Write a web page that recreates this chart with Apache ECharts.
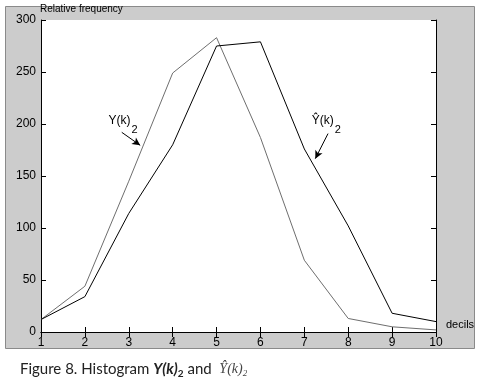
<!DOCTYPE html>
<html>
<head>
<meta charset="utf-8">
<script src="https://cdn.jsdelivr.net/npm/echarts@6/dist/echarts.min.js"></script>
<style>
  html, body { margin: 0; padding: 0; background: #fff; }
  #main { width: 484px; height: 392px; }
</style>
</head>
<body>
<div id="main"></div>
<script>
// deciles on x, relative frequency on y
var deciles = [1, 2, 3, 4, 5, 6, 7, 8, 9, 10];
var yk = [12, 44, 145, 249, 283, 187, 69, 13, 5, 2];       // Y(k)2, grey line
var yhat = [12, 34, 114, 180, 275, 279, 176, 102, 18, 10]; // Ŷ(k)2, black line
var yTicks = [0, 50, 100, 150, 200, 250, 300];

// annotation arrows (data coords) and label anchors
var ykArrow = [[2.84, 192], [3.26, 179.5]];
var yhatArrow = [[7.54, 190.8], [7.25, 166.7]];
var ykLabelAt = [2.87, 199];
var yhatLabelAt = [7.5, 199];

var myChart = echarts.init(document.getElementById('main'));

var axisLine = { lineStyle: { color: '#000', width: 1 } };
var tickIn = { inside: true, length: 5, lineStyle: { color: '#000' } };

myChart.setOption({
    backgroundColor: '#fff',
    animation: false,
    textStyle: { fontFamily: 'Liberation Sans, Arial, sans-serif' },
    graphic: [
        {
            type: 'rect', left: 5, top: 6, z: -10,
            shape: { width: 469, height: 342 },
            style: { fill: '#cccccc', stroke: '#8a8a8a', lineWidth: 1 }
        },
        {
            type: 'text', left: 20, top: 362,
            style: {
                text: '{n|Figure 8. Histogram }{b|Y(k)}{bs|2}{n| and  }{h|Ŷ(k)}{hs|2}',
                rich: {
                    n: { fontFamily: 'Lato', fontSize: 15, fill: '#222', verticalAlign: 'top' },
                    b: { fontFamily: 'Lato', fontSize: 15, fontWeight: 'bold', fontStyle: 'italic', fill: '#222', verticalAlign: 'top' },
                    bs: { fontFamily: 'Lato', fontSize: 10, fontWeight: 'bold', fill: '#222', verticalAlign: 'top', padding: [7, 0, 0, 0] },
                    h: { fontFamily: 'Liberation Serif', fontSize: 14, fontStyle: 'italic', fill: '#444', verticalAlign: 'top' },
                    hs: { fontFamily: 'Liberation Serif', fontSize: 9, fontStyle: 'italic', fill: '#444', verticalAlign: 'top', padding: [7, 0, 0, 0] }
                }
            }
        }
    ],
    grid: {
        show: true, backgroundColor: '#fff', borderWidth: 0,
        left: 41, right: 48, top: 20, bottom: 60
    },
    xAxis: [
        {
            type: 'value', min: 1, max: 10, interval: 1,
            name: 'decils', nameLocation: 'end', nameGap: 10,
            nameTextStyle: { color: '#000', fontSize: 11, verticalAlign: 'bottom', padding: [0, 0, 2, 0] },
            axisLine: axisLine, axisTick: tickIn,
            axisLabel: { color: '#000', fontSize: 12, margin: 5 },
            splitLine: { show: false }
        },
        {
            type: 'value', min: 1, max: 10, interval: 1, position: 'top',
            axisLine: axisLine, axisTick: tickIn,
            axisLabel: { show: false }, splitLine: { show: false }
        }
    ],
    yAxis: [
        {
            type: 'value', min: yTicks[0], max: yTicks[yTicks.length - 1], interval: 50,
            name: 'Relative frequency', nameLocation: 'end', nameGap: 3,
            nameTextStyle: { color: '#000', fontSize: 10, align: 'left', padding: [0, 0, 0, -1] },
            axisLine: axisLine, axisTick: tickIn,
            axisLabel: { color: '#000', fontSize: 12, margin: 5 },
            splitLine: { show: false }
        },
        {
            type: 'value', min: yTicks[0], max: yTicks[yTicks.length - 1], interval: 50, position: 'right',
            axisLine: axisLine, axisTick: tickIn,
            axisLabel: { show: false }, splitLine: { show: false }
        }
    ],
    series: [
        {
            name: 'Y(k)2', type: 'line', symbol: 'none',
            data: deciles.map(function (d, i) { return [d, yk[i]]; }),
            lineStyle: { color: '#6e6e6e', width: 1 },
            markLine: {
                silent: true, symbol: ['none', 'arrow'], symbolSize: [6, 8],
                lineStyle: { color: '#000', width: 1, type: 'solid' },
                label: { show: false },
                data: [[{ coord: ykArrow[0] }, { coord: ykArrow[1] }]]
            },
            markPoint: {
                silent: true, symbolSize: 0,
                label: {
                    show: true, position: 'inside',
                    formatter: '{a|Y(k)}{s|2}',
                    rich: {
                        a: { fontSize: 12, color: '#000', verticalAlign: 'top' },
                        s: { fontSize: 11, color: '#000', verticalAlign: 'top', padding: [9, 0, 0, 1] }
                    }
                },
                data: [{ coord: ykLabelAt }]
            }
        },
        {
            name: 'Ŷ(k)2', type: 'line', symbol: 'none',
            data: deciles.map(function (d, i) { return [d, yhat[i]]; }),
            lineStyle: { color: '#000', width: 1 },
            markLine: {
                silent: true, symbol: ['none', 'arrow'], symbolSize: [6, 8],
                lineStyle: { color: '#000', width: 1, type: 'solid' },
                label: { show: false },
                data: [[{ coord: yhatArrow[0] }, { coord: yhatArrow[1] }]]
            },
            markPoint: {
                silent: true, symbolSize: 0,
                label: {
                    show: true, position: 'inside',
                    formatter: '{a|Ŷ(k)}{s|2}',
                    rich: {
                        a: { fontSize: 12, color: '#000', verticalAlign: 'top' },
                        s: { fontSize: 11, color: '#000', verticalAlign: 'top', padding: [9, 0, 0, 1] }
                    }
                },
                data: [{ coord: yhatLabelAt }]
            }
        }
    ]
});

window.addEventListener('resize', function () {
    myChart.resize();
});
</script>
</body>
</html>
